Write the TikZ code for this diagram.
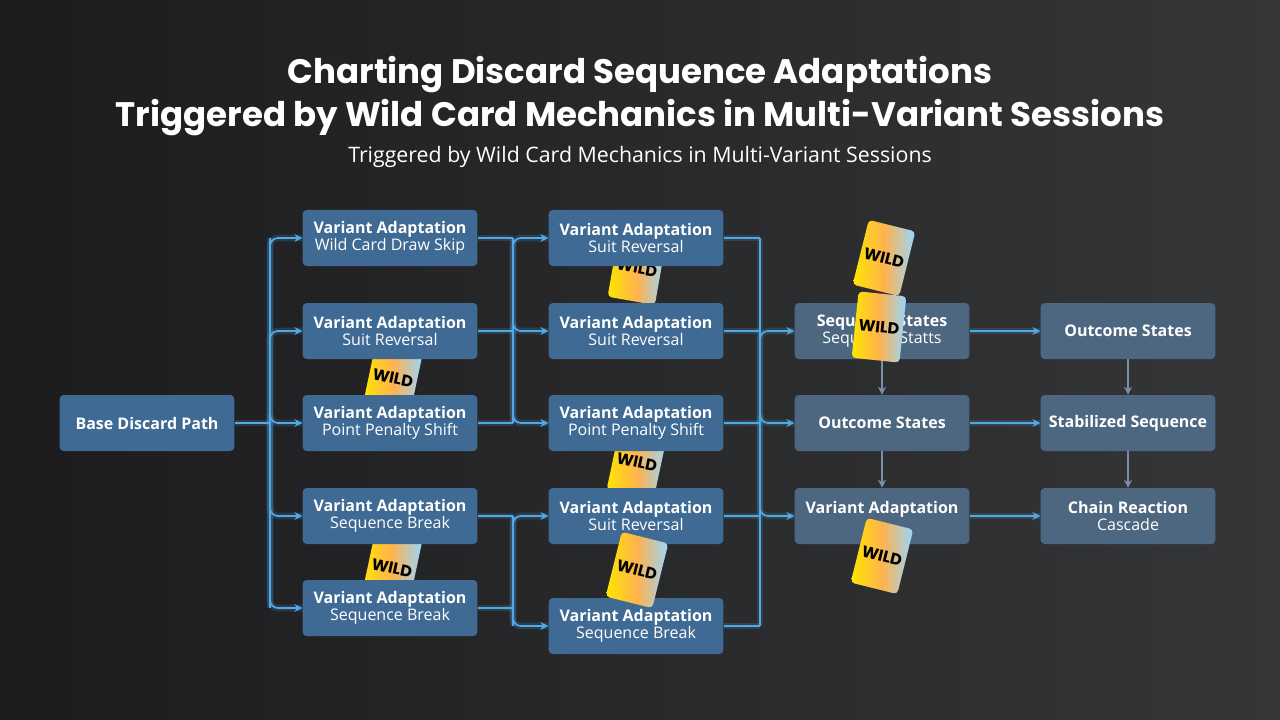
\documentclass[tikz,border=0pt]{standalone}
\usepackage{fontspec}
\setmainfont{Open Sans}
\newfontfamily\titlefont{Poppins}
\usetikzlibrary{arrows.meta}
\definecolor{bgA}{HTML}{1C1C1E}
\definecolor{bgB}{HTML}{353638}
\definecolor{nodeB}{HTML}{3F6A94}
\definecolor{nodeG}{HTML}{4E6780}
\definecolor{lineB}{HTML}{4FA8E8}
\definecolor{lineG}{HTML}{7A8FA6}
\tikzset{
 x=0.75pt,y=-0.75pt,
 box/.style={draw=none,fill=nodeB,rounded corners=3pt,minimum width=131pt,minimum height=42pt,align=center,text=white,font=\fontsize{12}{13.5}\selectfont,inner sep=1pt},
 gbox/.style={box,fill=nodeG},
 conn/.style={draw=lineB,line width=1.3pt,-{Stealth[length=6pt,width=6pt]},rounded corners=6pt},
 bus/.style={draw=lineB,line width=1.3pt,rounded corners=6pt},
 glow/.style={draw=lineB,line width=5pt,opacity=0.18,rounded corners=6pt},
 vconn/.style={draw=lineG,line width=1.3pt,-{Stealth[length=6pt,width=6pt]}},
 card/.style={rounded corners=3pt,minimum width=36pt,minimum height=50pt,left color=yellow!80!orange,right color=cyan!60!blue!40,middle color=magenta!30!yellow,font=\titlefont\bfseries\fontsize{12}{12}\selectfont,text=black,inner sep=0pt}
}
\newcommand{\tl}[2]{\textbf{#1}\\[-1pt]#2}
\begin{document}
\begin{tikzpicture}
\fill[left color=bgA,right color=bgB] (0,0) rectangle (1280,720);
\useasboundingbox (0,0) rectangle (1280,720);
\node[text=white,font=\titlefont\bfseries\fontsize{25.5}{32}\selectfont,align=center] (t1) at (640,96) {Charting Discard Sequence Adaptations\\Triggered by Wild Card Mechanics in Multi-Variant Sessions};
\node[text=white!90,font=\fontsize{16}{18}\selectfont] (t2) at (640,157) {Triggered by Wild Card Mechanics in Multi-Variant Sessions};
% cards behind
\node[card,rotate=-12] (w1) at (393,378) {WILD};
\node[card,rotate=-10] (w2) at (637,268) {WILD};
\node[card,rotate=-12] (w3) at (637,462) {WILD};
\node[card,rotate=-12] (w4) at (392,568) {WILD};
% nodes
\node[box] (b) at (147,423) {\textbf{Base Discard Path}};
\node[box] (a1) at (390,238) {\tl{Variant Adaptation}{Wild Card Draw Skip}};
\node[box] (a2) at (390,331) {\tl{Variant Adaptation}{Suit Reversal}};
\node[box] (a3) at (390,423) {\tl{Variant Adaptation}{Point Penalty Shift}};
\node[box] (a4) at (390,516) {\tl{Variant Adaptation}{Sequence Break}};
\node[box] (a5) at (390,608) {\tl{Variant Adaptation}{Sequence Break}};
\node[box] (c1) at (636,238) {\tl{Variant Adaptation}{Suit Reversal}};
\node[box] (c2) at (636,331) {\tl{Variant Adaptation}{Suit Reversal}};
\node[box] (c3) at (636,423) {\tl{Variant Adaptation}{Point Penalty Shift}};
\node[box] (c4) at (636,516) {\tl{Variant Adaptation}{Suit Reversal}};
\node[box] (c5) at (636,626) {\tl{Variant Adaptation}{Sequence Break}};
\node[gbox] (d1) at (882,331) {\tl{Sequence States}{Sequence Statts}};
\node[gbox] (d2) at (882,423) {\textbf{Outcome States}};
\node[gbox] (d3) at (882,516) {\textbf{Variant Adaptation}\\[-1pt]\phantom{x}};
\node[gbox] (e1) at (1128,331) {\textbf{Outcome States}};
\node[gbox] (e2) at (1128,423) {\textbf{Stabilized Sequence}};
\node[gbox] (e3) at (1128,516) {\tl{Chain Reaction}{Cascade}};
% coordinates
\coordinate (j0) at (270,423);
\coordinate (j1) at (513,331);
\coordinate (j2) at (513,570);
\coordinate (j3) at (760,423);
% connectors
\foreach \g in {glow,bus}{
 \path[\g] (b.east) -- (j0);
 \path[\g] (270,238) -- (270,608);
 \path[\g] (513,238) -- (513,423);
 \path[\g] (513,516) -- (513,626);
 \path[\g] (760,238) -- (760,626);
 \path[\g] (a1.east) -- (513,238);
 \path[\g] (a2.east) -- (513,331);
 \path[\g] (a3.east) -- (513,423);
 \path[\g] (a4.east) -- (513,516);
 \path[\g] (a5.east) -- (513,608);
 \path[\g] (c1.east) -- (760,238);
 \path[\g] (c2.east) -- (760,331);
 \path[\g] (c3.east) -- (760,423);
 \path[\g] (c4.east) -- (760,516);
 \path[\g] (c5.east) -- (760,626);
}
\foreach \n in {a1,a2,a3,a4,a5}{ \draw[glow] (j0) |- (\n.west); \draw[conn] (j0) |- (\n.west);}
\foreach \n in {c1,c2,c3}{ \draw[glow] (j1) |- (\n.west); \draw[conn] (j1) |- (\n.west);}
\foreach \n in {c4,c5}{ \draw[glow] (j2) |- (\n.west); \draw[conn] (j2) |- (\n.west);}
\foreach \n in {d1,d2,d3}{ \draw[glow] (j3) |- (\n.west); \draw[conn] (j3) |- (\n.west);}
\draw[glow] (d1) -- (e1); \draw[conn] (d1) -- (e1);
\draw[glow] (d2) -- (e2); \draw[conn] (d2) -- (e2);
\draw[glow] (d3) -- (e3); \draw[conn] (d3) -- (e3);
\draw[vconn] (d1) -- (d2); \draw[vconn] (d2) -- (d3);
\draw[vconn] (e1) -- (e2); \draw[vconn] (e2) -- (e3);
% cards front
\node[card,rotate=-14] (w5) at (884,258) {WILD};
\node[card,rotate=-6] (w6) at (879,327) {WILD};
\node[card,rotate=-14] (w7) at (882,556) {WILD};
\node[card,rotate=-14] (w8) at (637,570) {WILD};
\end{tikzpicture}
\end{document}
